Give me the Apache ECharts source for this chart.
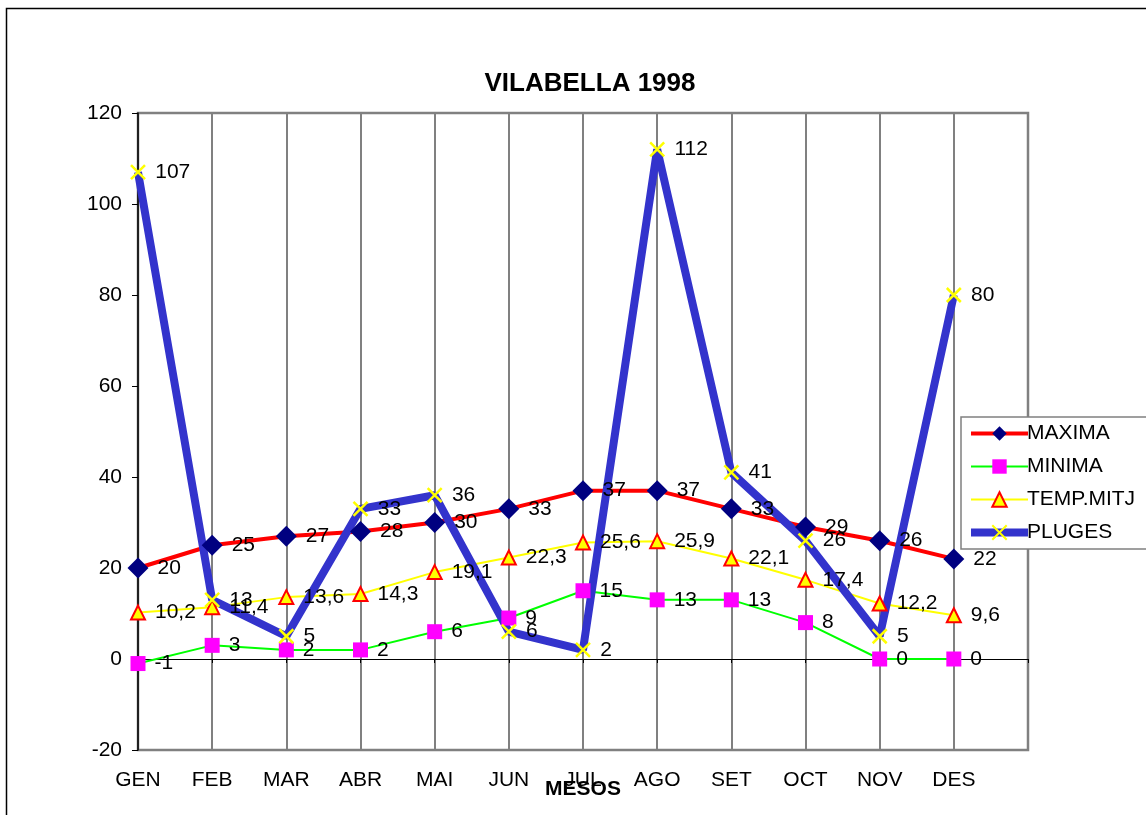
<!DOCTYPE html>
<html>
<head>
<meta charset="utf-8">
<script src="https://cdn.jsdelivr.net/npm/echarts@6/dist/echarts.min.js"></script>
<style>
  html, body { margin: 0; padding: 0; background: #fff; }
  #chart { width: 1146px; height: 815px; }
</style>
</head>
<body>
<div id="chart"></div>
<script>
// months, plus one empty slot so the plot runs a step past DES
const months = ['GEN', 'FEB', 'MAR', 'ABR', 'MAI', 'JUN', 'JUL', 'AGO', 'SET', 'OCT', 'NOV', 'DES', ''];

const maxima = [20, 25, 27, 28, 30, 33, 37, 37, 33, 29, 26, 22];
const minima = [-1, 3, 2, 2, 6, 9, 15, 13, 13, 8, 0, 0];
const tempMitj = [10.2, 11.4, 13.6, 14.3, 19.1, 22.3, 25.6, 25.9, 22.1, 17.4, 12.2, 9.6];
const pluges = [107, 13, 5, 33, 36, 6, 2, 112, 41, 26, 5, 80];

const font = "'Liberation Sans', Arial, sans-serif";

let chart = echarts.init(document.getElementById('chart'));

let dataLabel = {
  show: true,
  position: 'right',
  distance: 9,
  color: '#000',
  fontSize: 21,
  fontFamily: font,
  formatter: p => String(p.value).replace('.', ','),
};

chart.setOption({
  backgroundColor: '#fff',
  animation: false,
  title: {
    text: 'VILABELLA 1998',
    left: 585,
    textAlign: 'center',
    top: 66,
    textStyle: { color: '#000', fontSize: 26, fontWeight: 'bold', fontFamily: font },
  },
  graphic: [
    {
      type: 'rect',
      shape: { x: 6.5, y: 8.5, width: 1200, height: 900 },
      style: { fill: 'none', stroke: '#000', lineWidth: 1.5 },
      silent: true,
    },
  ],
  legend: {
    left: 961,
    top: 417,
    orient: 'vertical',
    padding: [6, 40, 6, 6],
    itemWidth: 57,
    itemHeight: 18,
    itemGap: 12,
    backgroundColor: '#fff',
    borderColor: '#808080',
    borderWidth: 1.5,
    textStyle: { color: '#000', fontSize: 21, fontFamily: font, padding: [0, 0, 0, -6] },
    data: [
      { name: 'MAXIMA', lineStyle: { width: 4 } },
      { name: 'MINIMA', lineStyle: { width: 2 } },
      { name: 'TEMP.MITJ', lineStyle: { width: 2 } },
      { name: 'PLUGES', lineStyle: { width: 8 } },
    ],
  },
  grid: {
    left: 138,
    top: 113,
    right: 118,
    bottom: 65,
    show: true,
    borderColor: '#808080',
    borderWidth: 2.5,
  },
  xAxis: [
    {
      type: 'category',
      data: months,
      boundaryGap: false,
      position: 'bottom',
      name: 'MESOS',
      nameLocation: 'middle',
      nameGap: 29,
      nameMoveOverlap: false,
      nameTextStyle: { color: '#000', fontSize: 21, fontWeight: 'bold', fontFamily: font },
      axisLine: { show: false, onZero: false },
      axisTick: { show: false },
      axisLabel: { color: '#000', fontSize: 21, fontFamily: font, margin: 20, interval: 0 },
      splitLine: { show: true, lineStyle: { color: '#808080', width: 2 } },
    },
    {
      type: 'category',
      data: months,
      boundaryGap: false,
      position: 'bottom',
      axisLine: { show: true, onZero: true, lineStyle: { color: '#000', width: 1 } },
      axisTick: { show: true, interval: 0, length: 4, lineStyle: { color: '#000' } },
      axisLabel: { show: false },
      splitLine: { show: false },
    },
  ],
  yAxis: {
    type: 'value',
    min: -20,
    max: 120,
    interval: 20,
    axisLine: { show: true, lineStyle: { color: '#000', width: 1.5 } },
    axisTick: { show: true, length: 6, lineStyle: { color: '#000' } },
    axisLabel: { color: '#000', fontSize: 21, fontFamily: font, margin: 16 },
    splitLine: { show: false },
  },
  series: [
    {
      name: 'MAXIMA',
      type: 'line',
      data: maxima,
      symbol: 'diamond',
      symbolSize: 21,
      lineStyle: { color: '#FF0000', width: 4 },
      itemStyle: { color: '#000080' },
      label: dataLabel,
    },
    {
      name: 'MINIMA',
      type: 'line',
      data: minima,
      symbol: 'rect',
      symbolSize: 15,
      lineStyle: { color: '#00FF00', width: 2 },
      itemStyle: { color: '#FF00FF' },
      label: dataLabel,
    },
    {
      name: 'TEMP.MITJ',
      type: 'line',
      data: tempMitj,
      symbol: 'triangle',
      symbolSize: 14,
      lineStyle: { color: '#FFFF00', width: 2 },
      itemStyle: { color: '#FFFF00', borderColor: '#FF0000', borderWidth: 2 },
      label: dataLabel,
    },
    {
      name: 'PLUGES',
      type: 'line',
      data: pluges,
      symbol: 'path://M0,0L10,10M10,0L0,10',
      symbolSize: 14,
      lineStyle: { color: '#3333CC', width: 8 },
      itemStyle: { color: '#FFFF00', borderColor: '#FFFF00', borderWidth: 2.5 },
      label: dataLabel,
    },
  ],
});
</script>
</body>
</html>
